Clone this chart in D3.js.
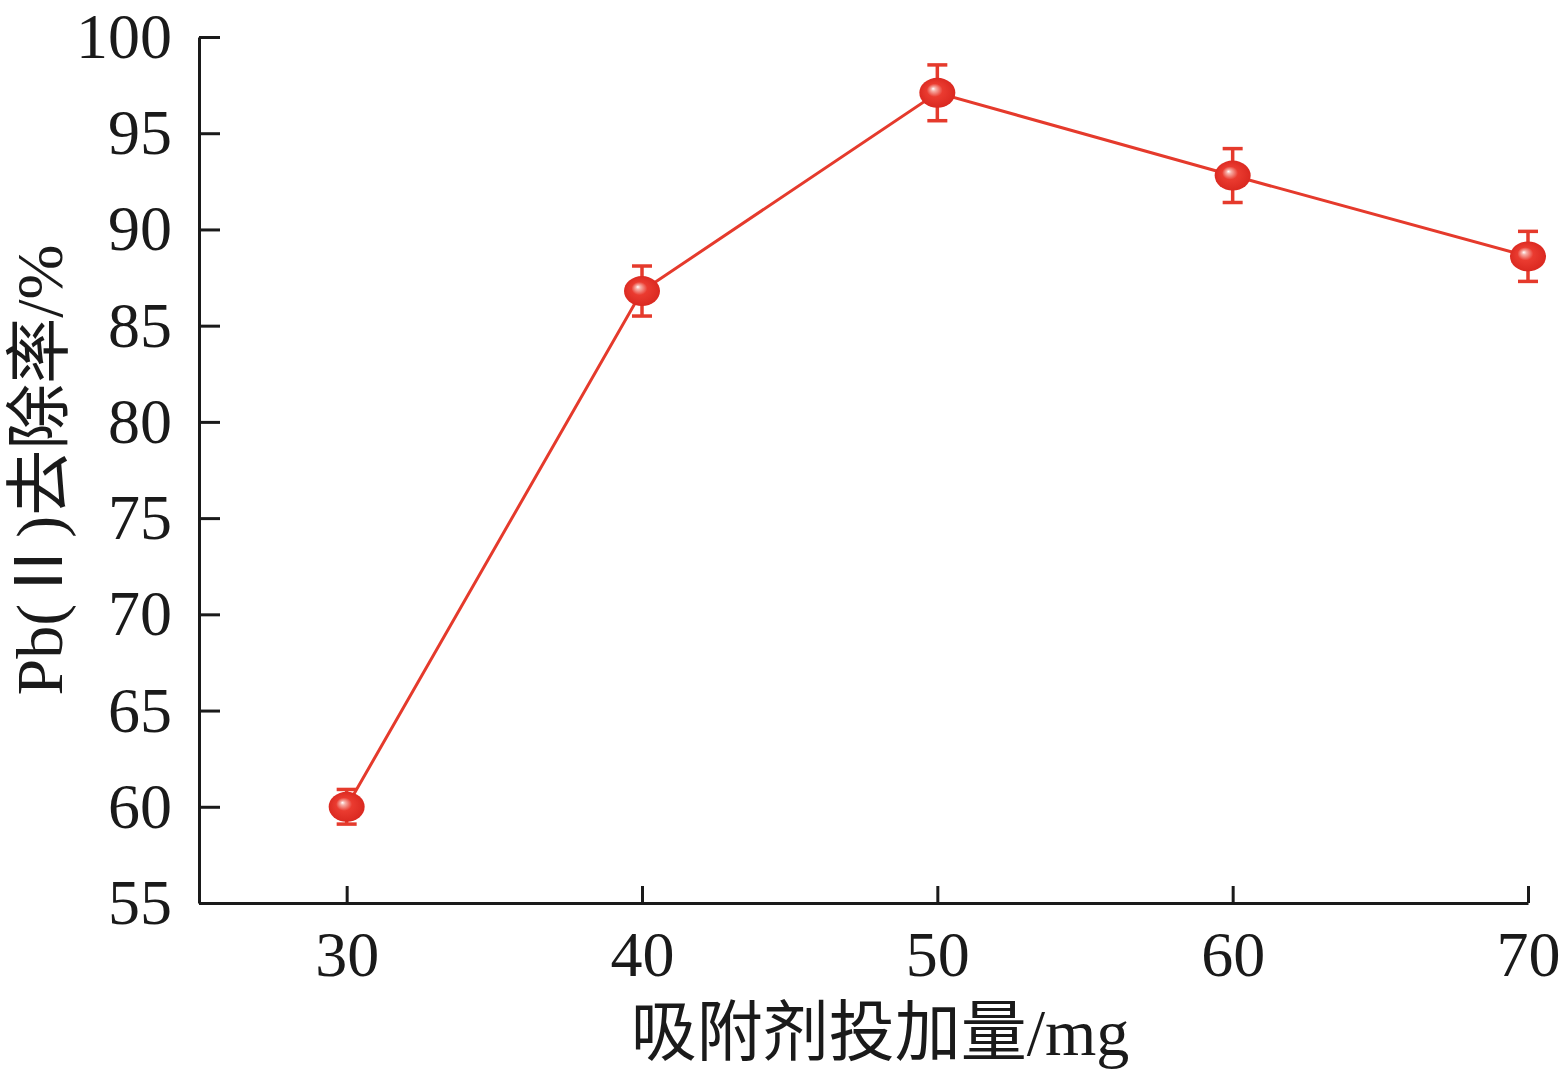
<!DOCTYPE html>
<html>
<head>
<meta charset="utf-8">
<script src="https://cdn.jsdelivr.net/npm/d3@7"></script>
<style>
  html, body { margin: 0; padding: 0; background: #fff; }
  svg { display: block; }
  .axis text { font-family: "Liberation Serif", "Times New Roman", serif; font-size: 64px; fill: #1a1a1a; }
  .axis path, .axis line { stroke: #1a1a1a; stroke-width: 3px; }
  .lbl { font-family: "Liberation Serif", "Noto Sans CJK SC", serif; font-size: 66px; fill: #1a1a1a; }
</style>
</head>
<body>
<svg id="chart" width="1567" height="1075"></svg>
<script>
const dosage = [30, 40, 50, 60, 70];
const removal = [60.0, 86.8, 97.1, 92.8, 88.6];
const errors = [0.9, 1.3, 1.45, 1.4, 1.3];
const xTicks = [30, 40, 50, 60, 70];
const yTicks = [55, 60, 65, 70, 75, 80, 85, 90, 95, 100];

const svg = d3.select("#chart");
const x = d3.scaleLinear().domain([25, 70]).range([199, 1528]);
const y = d3.scaleLinear().domain([55, 100]).range([903, 37]);
const red = "#e53a2c";

const defs = svg.append("defs");
const g = defs.append("radialGradient").attr("id", "ball")
  .attr("cx", "50%").attr("cy", "50%").attr("r", "55%")
  .attr("fx", "38%").attr("fy", "36%");
g.append("stop").attr("offset", "0%").attr("stop-color", "#ffffff");
g.append("stop").attr("offset", "12%").attr("stop-color", "#f6b0a8");
g.append("stop").attr("offset", "40%").attr("stop-color", "#ea3b30");
g.append("stop").attr("offset", "100%").attr("stop-color", "#d8261e");

// axes
svg.append("g").attr("class", "axis")
  .attr("transform", `translate(0,${y(55)})`)
  .call(d3.axisBottom(x).tickValues(xTicks).tickSizeInner(-17).tickSizeOuter(0).tickPadding(28))
  .call(a => a.selectAll("text").attr("dy", "0.71em"));

svg.append("g").attr("class", "axis")
  .attr("transform", `translate(${x(25)},0)`)
  .call(d3.axisLeft(y).tickValues(yTicks).tickSizeInner(-21).tickSizeOuter(0).tickPadding(27));

// line
svg.append("path")
  .datum(dosage.map((d, i) => [d, removal[i]]))
  .attr("fill", "none").attr("stroke", red).attr("stroke-width", 3)
  .attr("d", d3.line().x(d => x(d[0])).y(d => y(d[1])));

// error bars
const eb = svg.append("g").attr("stroke", red).attr("stroke-width", 3.5);
dosage.forEach((d, i) => {
  const cx = x(d);
  const y1 = y(removal[i] + errors[i]), y2 = y(removal[i] - errors[i]);
  eb.append("line").attr("x1", cx).attr("x2", cx).attr("y1", y1).attr("y2", y2);
  eb.append("line").attr("x1", cx - 10).attr("x2", cx + 10).attr("y1", y1).attr("y2", y1);
  eb.append("line").attr("x1", cx - 10).attr("x2", cx + 10).attr("y1", y2).attr("y2", y2);
});

// markers
svg.append("g").selectAll("ellipse").data(dosage).join("ellipse")
  .attr("cx", d => x(d)).attr("cy", (d, i) => y(removal[i]))
  .attr("rx", 18).attr("ry", 15).attr("fill", "url(#ball)");

// axis titles
svg.append("text").attr("class", "lbl")
  .attr("x", 880).attr("y", 1055).attr("text-anchor", "middle")
  .text("吸附剂投加量/mg");

svg.append("text").attr("class", "lbl")
  .attr("transform", `translate(62,470) rotate(-90)`)
  .attr("text-anchor", "middle")
  .text("Pb(Ⅱ)去除率/%");
</script>
</body>
</html>
